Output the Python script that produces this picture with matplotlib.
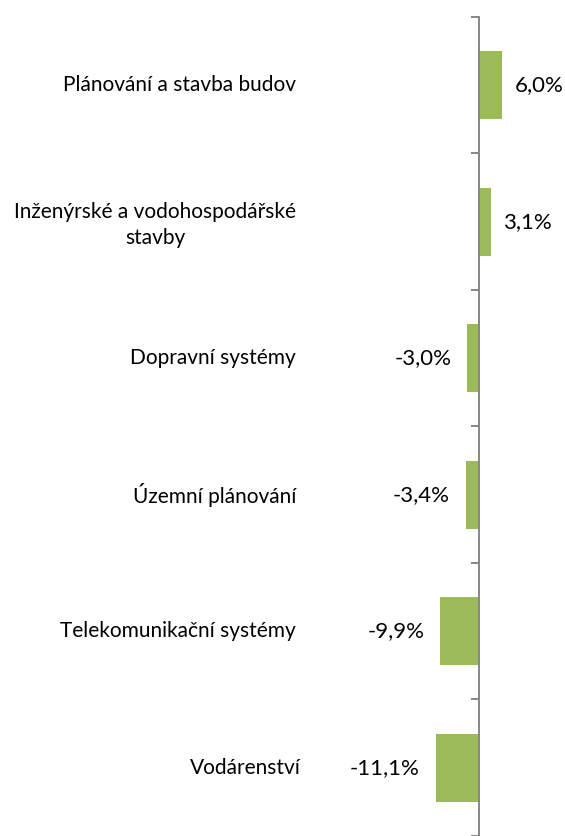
#! /usr/bin/env python3

import numpy as np
import matplotlib.pyplot as plt
from matplotlib.transforms import blended_transform_factory

categories = ['Plánování a stavba budov',
              'Inženýrské a vodohospodářské\nstavby',
              'Dopravní systémy',
              'Územní plánování',
              'Telekomunikační systémy',
              'Vodárenství']
values = [6.0, 3.1, -3.0, -3.4, -9.9, -11.1]
value_labels = ['6,0%', '3,1%', '-3,0%', '-3,4%', '-9,9%', '-11,1%']

W, H = 565, 836
zero_px = 479      # pixel position of the zero line
px_per_unit = 3.9  # pixels per percent
row_px = 137.5     # height of one category row
top_px = 17        # top boundary of the first row
fs = 15

plt.rcParams['font.family'] = ['Lato', 'DejaVu Sans']

fig = plt.figure(figsize=(W / 100, H / 100), dpi=100)
ax = fig.add_axes([0, 0, 1, 1])

y = np.arange(len(categories))
ax.barh(y, values, height=0.5, color='#9BBB59', zorder=2)

# axis limits so the zero line and rows land where the reference has them
ax.set_xlim(-zero_px / px_per_unit, (W - zero_px) / px_per_unit)
ax.set_ylim(-0.5 + (H - top_px) / row_px, -0.5 - top_px / row_px)

for s in ['top', 'right', 'bottom']:
    ax.spines[s].set_visible(False)
ax.spines['left'].set_position(('data', 0))
ax.spines['left'].set_bounds(-0.5, len(categories) - 0.5)
ax.spines['left'].set_color('#868686')
ax.spines['left'].set_linewidth(1.4)
ax.spines['left'].set_zorder(3)

ax.set_xticks([])
ax.set_yticks(np.arange(-0.5, len(categories), 1.0))
ax.tick_params(axis='y', direction='out', length=5.8, width=1.4,
               color='#868686', labelleft=False)

# category labels on the left
trans = blended_transform_factory(fig.transFigure, ax.transData)
for i, cat in enumerate(categories):
    xoff = 301 if cat == 'Vodárenství' else 296
    yoff = 0.025 if '\n' in cat else 0
    ax.text(xoff / W, i + yoff, cat, transform=trans, ha='right', va='center',
            multialignment='center', fontsize=fs, color='#000000',
            linespacing=1.4)

# value labels
for i, (v, lab) in enumerate(zip(values, value_labels)):
    if v >= 0:
        ax.text(v + 12 / px_per_unit, i, lab, ha='left', va='center',
                fontsize=16, color='#000000')
    else:
        ax.text(v - 16 / px_per_unit, i, lab, ha='right', va='center',
                fontsize=16, color='#000000')

fig.savefig('out.png', dpi=100)
